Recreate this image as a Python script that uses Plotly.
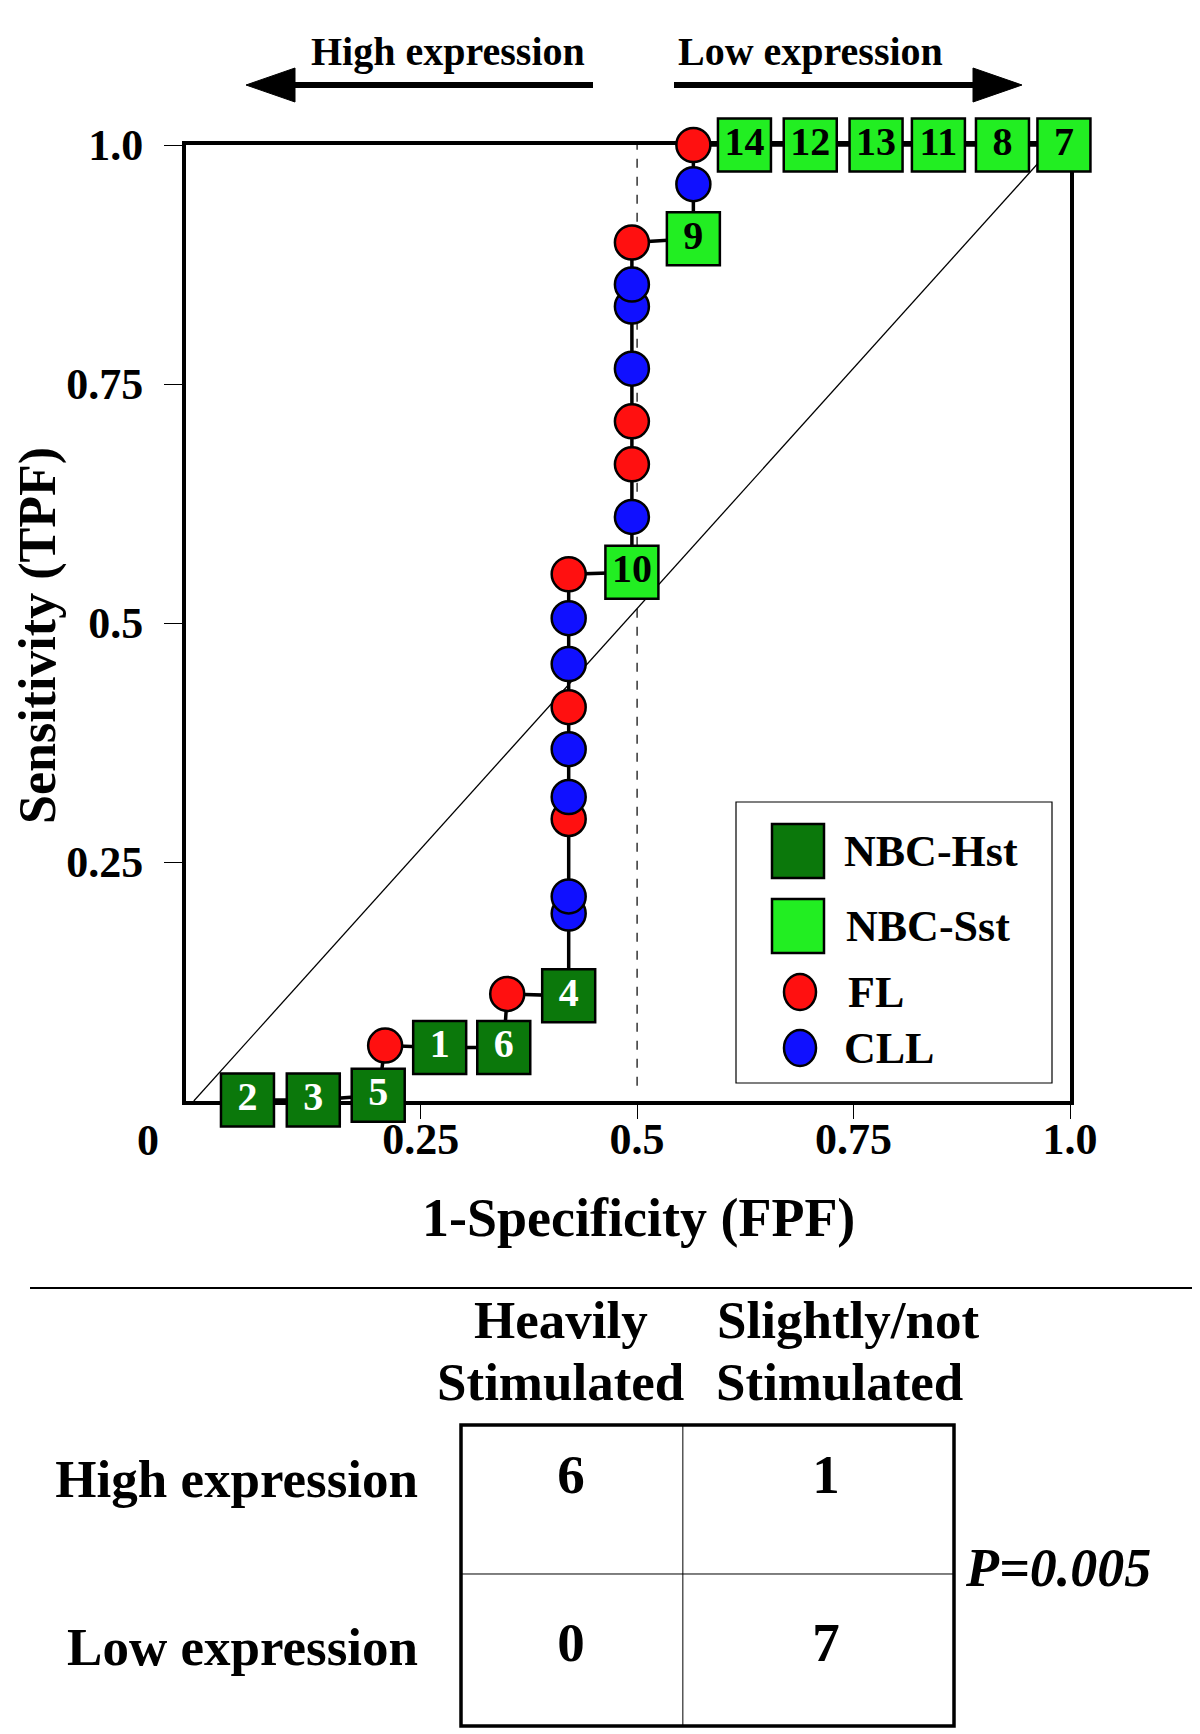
import plotly.graph_objects as go

W, H = 1200, 1734
SERIF = "Liberation Serif, Times New Roman, serif"

# ---------------- ROC data (ordered along the curve) ----------------
fpf = [0.050, 0.126, 0.201, 0.209, 0.272, 0.346, 0.350, 0.421,
       0.421, 0.421, 0.421, 0.421, 0.421, 0.421, 0.421, 0.421, 0.421,
       0.494, 0.494, 0.494, 0.494, 0.494, 0.494, 0.494, 0.494,
       0.565, 0.565, 0.565,
       0.624, 0.700, 0.776, 0.848, 0.922, 0.993]
tpf = [0.001, 0.001, 0.006, 0.058, 0.056, 0.056, 0.112, 0.110,
       0.196, 0.214, 0.295, 0.318, 0.368, 0.412, 0.457, 0.505, 0.551,
       0.553, 0.611, 0.666, 0.711, 0.766, 0.831, 0.854, 0.898,
       0.902, 0.959, 1.000,
       1.000, 1.000, 1.000, 1.000, 1.000, 1.000]
group = ["NBC-Hst", "NBC-Hst", "NBC-Hst", "FL", "NBC-Hst", "NBC-Hst", "FL", "NBC-Hst",
         "CLL", "CLL", "FL", "CLL", "CLL", "FL", "CLL", "CLL", "FL",
         "NBC-Sst", "CLL", "FL", "FL", "CLL", "CLL", "CLL", "FL",
         "NBC-Sst", "CLL", "FL",
         "NBC-Sst", "NBC-Sst", "NBC-Sst", "NBC-Sst", "NBC-Sst", "NBC-Sst"]
label = ["2", "3", "5", "", "1", "6", "", "4",
         "", "", "", "", "", "", "", "", "",
         "10", "", "", "", "", "", "", "",
         "9", "", "",
         "14", "12", "13", "11", "8", "7"]

legend_groups = ["NBC-Hst", "NBC-Sst", "FL", "CLL"]

# reference lines
diag_x = [-0.012, 0.982]
diag_y = [0.0, 1.0]
cutoff_fpf = 0.5

x_tickvals = [0.25, 0.5, 0.75, 1.0]
x_ticktext = ["0.25", "0.5", "0.75", "1.0"]
y_tickvals = [0.25, 0.5, 0.75, 1.0]
y_ticktext = ["0.25", "0.5", "0.75", "1.0"]

# ---------------- contingency table ----------------
stim_cols = ["Heavily<br>Stimulated", "Slightly/not<br>Stimulated"]
expr_rows = ["High expression", "Low expression"]
counts = [[6, 1], [0, 7]]
p_text = "<b><i>P=0.005</i></b>"

# ---------------- styles ----------------
STYLE = {
    "NBC-Hst": dict(symbol="square", size=53, color="#0b780b", text="white"),
    "NBC-Sst": dict(symbol="square", size=53, color="#22ee22", text="black"),
    "FL": dict(symbol="circle", size=34, color="#ff1010", text="black"),
    "CLL": dict(symbol="circle", size=34, color="#1010ff", text="black"),
}
HEADER_SHIFT = [[-10, -10], [22, 14]]
HEADER_LINE_Y = [1312, 1374]


def PX(x):
    return x / W


def PY(y):
    return 1 - y / H


fig = go.Figure()

fig.add_trace(go.Scatter(
    x=fpf, y=tpf, mode="lines+markers+text",
    line=dict(color="black", width=3.5),
    marker=dict(symbol=[STYLE[g]["symbol"] for g in group],
                size=[STYLE[g]["size"] for g in group],
                color=[STYLE[g]["color"] for g in group],
                opacity=1,
                line=dict(color="black", width=2.5)),
    text=label, textposition="middle center",
    textfont=dict(family=SERIF, size=40, weight="bold",
                  color=[STYLE[g]["text"] for g in group]),
    cliponaxis=False, hoverinfo="skip", showlegend=False,
))

# table values
tx, ty, tt = [], [], []
for i, r in enumerate(expr_rows):
    for j, c in enumerate(stim_cols):
        tx.append(c)
        ty.append(r)
        tt.append(str(counts[i][j]))
fig.add_trace(go.Scatter(
    x=tx, y=ty, text=tt, mode="text", xaxis="x2", yaxis="y2",
    textfont=dict(family=SERIF, size=55, weight="bold", color="black"),
    hoverinfo="skip", showlegend=False, cliponaxis=False,
))

shapes = []
# chance diagonal and cutoff
shapes.append(dict(type="line", xref="x", yref="y", x0=diag_x[0], y0=diag_y[0],
                   x1=diag_x[1], y1=diag_y[1], line=dict(color="black", width=1.3),
                   layer="below"))
shapes.append(dict(type="line", xref="x", yref="y", x0=cutoff_fpf, y0=0.016,
                   x1=cutoff_fpf, y1=1.0, line=dict(color="black", width=1.2, dash="dash"),
                   layer="below"))

# arrows
AY = 77
shapes.append(dict(type="line", xref="paper", yref="paper", x0=PX(585), y0=PY(AY),
                   x1=PX(283), y1=PY(AY), line=dict(color="black", width=6)))
shapes.append(dict(type="path", xref="paper", yref="paper",
                   path=f"M{PX(238)},{PY(AY)} L{PX(287)},{PY(AY - 17)} L{PX(287)},{PY(AY + 17)} Z",
                   fillcolor="black", line=dict(color="black", width=1)))
shapes.append(dict(type="line", xref="paper", yref="paper", x0=PX(666), y0=PY(AY),
                   x1=PX(970), y1=PY(AY), line=dict(color="black", width=6)))
shapes.append(dict(type="path", xref="paper", yref="paper",
                   path=f"M{PX(1014)},{PY(AY)} L{PX(965)},{PY(AY - 17)} L{PX(965)},{PY(AY + 17)} Z",
                   fillcolor="black", line=dict(color="black", width=1)))

# legend box and swatches
shapes.append(dict(type="rect", xref="paper", yref="paper", x0=PX(728), x1=PX(1044),
                   y0=PY(1075), y1=PY(794), line=dict(color="black", width=1.2),
                   fillcolor="white", layer="above"))
leg_y = [843, 918, 984, 1040]
for g, yy in zip(legend_groups, leg_y):
    st = STYLE[g]
    if st["symbol"] == "square":
        shapes.append(dict(type="rect", xref="paper", yref="paper",
                           x0=PX(790 - 26), x1=PX(790 + 26), y0=PY(yy + 27), y1=PY(yy - 27),
                           fillcolor=st["color"], line=dict(color="black", width=2.5)))
    else:
        shapes.append(dict(type="circle", xref="paper", yref="paper",
                           x0=PX(792 - 16), x1=PX(792 + 16), y0=PY(yy + 18), y1=PY(yy - 18),
                           fillcolor=st["color"], line=dict(color="black", width=2.5)))

# separator
shapes.append(dict(type="line", xref="paper", yref="paper", x0=PX(22), x1=PX(1189),
                   y0=PY(1280), y1=PY(1280), line=dict(color="black", width=2)))

# table grid
shapes.append(dict(type="rect", xref="x2 domain", yref="y2 domain", x0=0, x1=1, y0=0, y1=1,
                   line=dict(color="black", width=3.5)))
shapes.append(dict(type="line", xref="x2 domain", yref="y2 domain", x0=0.45, x1=0.45,
                   y0=0, y1=1, line=dict(color="black", width=1)))
shapes.append(dict(type="line", xref="x2 domain", yref="y2 domain", x0=0, x1=1,
                   y0=0.505, y1=0.505, line=dict(color="black", width=1)))

ann = []


def text(x, y, s, size, xanchor="center", angle=0):
    ann.append(dict(xref="paper", yref="paper", x=PX(x), y=PY(y), text=s,
                    showarrow=False, xanchor=xanchor, yanchor="middle", textangle=angle,
                    font=dict(family=SERIF, size=size, color="black")))


text(440, 43, "<b>High expression</b>", 40)
text(802, 43, "<b>Low expression</b>", 40)
text(630, 1210, "<b>1-Specificity (FPF)</b>", 54)
text(30, 628, "<b>Sensitivity (TPF)</b>", 52, angle=-90)
text(140, 1132, "<b>0</b>", 44)
leg_text_x = [834, 836, 838, 834]
for g, yy, xx in zip(legend_groups, leg_y, leg_text_x):
    text(xx, yy, f"<b>{g}</b>", 44, xanchor="left")
text(1050, 1560, p_text, 54)

# column headers placed on the table's category scale (one annotation per line)
for c, shifts in zip(stim_cols, HEADER_SHIFT):
    for line_txt, yy, sh in zip(c.split("<br>"), HEADER_LINE_Y, shifts):
        ann.append(dict(xref="x2", yref="paper", x=c, y=PY(yy), text=f"<b>{line_txt}</b>",
                        xshift=sh, showarrow=False, xanchor="center", yanchor="middle",
                        font=dict(family=SERIF, size=53, color="black")))

fig.update_layout(
    width=W, height=H, margin=dict(l=0, r=0, t=0, b=0),
    paper_bgcolor="white", plot_bgcolor="white",
    shapes=shapes, annotations=ann,
    xaxis=dict(domain=[178 / W, 1062 / W], range=[-0.021, 1.0],
               showline=True, linewidth=4, linecolor="black", mirror=True,
               ticks="outside", ticklen=14, tickwidth=1.3, tickcolor="black",
               tickvals=x_tickvals, ticktext=x_ticktext, ticklabelstandoff=-18,
               tickfont=dict(family=SERIF, size=44, color="black", weight="bold"),
               showgrid=False, zeroline=False, layer="below traces", automargin=False),
    yaxis=dict(domain=[1 - 1093 / H, 1 - 137 / H], range=[0, 1],
               showline=True, linewidth=4, linecolor="black", mirror=True,
               ticks="outside", ticklen=18, tickwidth=1.3, tickcolor="black",
               tickvals=y_tickvals, ticktext=y_ticktext, ticklabelstandoff=12,
               tickfont=dict(family=SERIF, size=44, color="black", weight="bold"),
               showgrid=False, zeroline=False, layer="below traces", automargin=False),
    xaxis2=dict(domain=[453 / W, 946 / W], anchor="y2", type="category",
                categoryorder="array", categoryarray=stim_cols, range=[-0.431, 1.502],
                side="top", showline=False, showgrid=False, zeroline=False, ticks="",
                showticklabels=False, automargin=False),
    yaxis2=dict(domain=[1 - 1718 / H, 1 - 1417 / H], anchor="x2", type="category",
                categoryorder="array", categoryarray=expr_rows, range=[1.471, -0.321],
                showline=False, showgrid=False, zeroline=False, ticks="",
                ticklabelstandoff=42,
                tickfont=dict(family=SERIF, size=53, color="black", weight="bold"),
                automargin=False),
    showlegend=False,
)

fig.write_html("out.html")
